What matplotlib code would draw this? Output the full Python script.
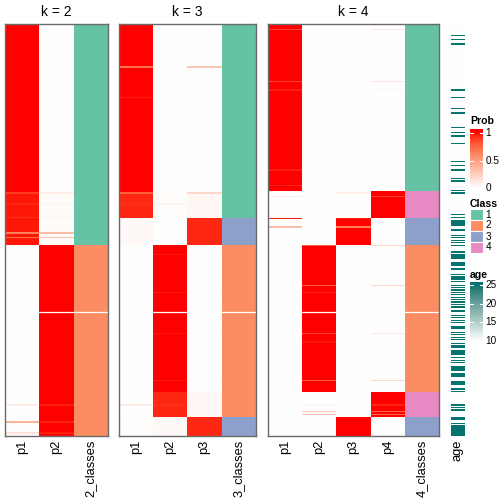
import numpy as np
import matplotlib
matplotlib.use("Agg")
import matplotlib.pyplot as plt
from matplotlib.colors import ListedColormap, to_rgb
from matplotlib.patches import Rectangle

plt.rcParams['font.family'] = ['Liberation Sans', 'DejaVu Sans']

# ---------------- data ----------------
N_SAMPLES = 340

# membership probabilities: (number of rows, [p1..pk]) runs, plus single-row exceptions
k2_segments = [(139, [1.0, 0.0]), (43, [0.98, 0.02]), (158, [0.0, 1.0])]
k2_exceptions = {139: [0.90, 0.10], 148: [0.95, 0.05], 159: [0.93, 0.07],
                 172: [0.65, 0.35], 176: [0.70, 0.30],
                 314: [0.10, 0.97], 328: [0.40, 0.96], 337: [0.15, 0.97]}
k2_class_runs = [(1, 182), (2, 158)]

k3_segments = [(139, [1.0, 0.0, 0.0]), (21, [0.95, 0.01, 0.04]),
               (22, [0.03, 0.0, 0.95]), (122, [0.0, 1.0, 0.0]),
               (20, [0.0, 0.95, 0.04]), (16, [0.01, 0.03, 0.95])]
k3_exceptions = {35: [0.70, 0.0, 0.30], 60: [0.97, 0.0, 0.02],
                 139: [0.78, 0.02, 0.22], 148: [0.94, 0.05, 0.04],
                 190: [0.0, 0.98, 0.02], 221: [0.0, 0.98, 0.01],
                 255: [0.0, 0.98, 0.02], 294: [0.0, 0.98, 0.02],
                 314: [0.10, 0.93, 0.04]}
k3_class_runs = [(1, 160), (3, 22), (2, 142), (3, 16)]

k4_segments = [(138, [1.0, 0.0, 0.0, 0.0]), (22, [0.0, 0.0, 0.0, 1.0]),
               (22, [0.0, 0.0, 1.0, 0.0]), (122, [0.0, 1.0, 0.0, 0.0]),
               (20, [0.0, 0.0, 0.0, 1.0]), (16, [0.0, 0.0, 1.0, 0.0])]
k4_exceptions = {0: [0.90, 0.0, 0.0, 0.20], 4: [0.88, 0.0, 0.0, 0.12],
                 47: [0.88, 0.0, 0.0, 0.12], 54: [0.97, 0.0, 0.0, 0.03],
                 120: [0.97, 0.0, 0.0, 0.02], 133: [0.97, 0.0, 0.0, 0.03],
                 139: [0.0, 0.0, 0.08, 1.0], 142: [0.10, 0.0, 0.0, 0.88],
                 160: [0.97, 0.0, 0.97, 0.0], 167: [0.35, 0.0, 0.65, 0.0],
                 182: [0.0, 0.80, 0.0, 0.20], 190: [0.0, 1.0, 0.02, 0.0],
                 215: [0.0, 0.80, 0.0, 0.20], 221: [0.0, 0.97, 0.0, 0.03],
                 255: [0.0, 0.88, 0.0, 0.12], 262: [0.0, 0.98, 0.0, 0.02],
                 294: [0.0, 0.80, 0.0, 0.20],
                 314: [0.0, 0.05, 0.0, 0.96], 319: [0.0, 0.30, 0.0, 0.75],
                 322: [0.0, 0.30, 0.0, 0.75]}
k4_class_runs = [(1, 138), (4, 22), (3, 22), (2, 122), (4, 20), (3, 16)]

# age annotation: low/high values, rows (start, count) with high age
age_low, age_high = 10, 25
age_high_runs = [(9, 1), (12, 1), (16, 1), (54, 1), (60, 1), (69, 1), (73, 1), (85, 1),
                 (89, 1), (92, 1), (98, 1), (113, 1), (116, 1), (120, 1), (127, 1),
                 (129, 1), (137, 1), (139, 1), (157, 1), (159, 1), (162, 5), (169, 2),
                 (174, 1), (176, 1), (178, 1), (180, 1), (182, 1), (187, 2), (190, 4),
                 (196, 4), (201, 2), (206, 1), (208, 3), (212, 1), (215, 1), (217, 1),
                 (219, 1), (221, 1), (223, 1), (225, 1), (227, 1), (229, 1), (231, 1),
                 (233, 1), (236, 2), (240, 1), (242, 1), (244, 1), (246, 1), (249, 3),
                 (254, 1), (256, 1), (258, 1), (260, 1), (263, 1), (265, 2), (269, 4),
                 (275, 1), (277, 1), (279, 1), (282, 4), (288, 3), (295, 3), (300, 2),
                 (303, 1), (314, 1), (316, 1), (318, 1), (324, 3), (329, 1), (331, 9)]

gap_row = 238  # thin white seam seen in the body
class_labels = ['1', '2', '3', '4']
class_colors = ['#66C2A5', '#FC8D62', '#8DA0CB', '#E78AC3']
prob_ticks = [0, 0.5, 1]
age_ticks = [10, 15, 20, 25]
teal = '#07736E'

# ---------------- helpers ----------------
def srgb_to_lab(c):
    c = np.asarray(c, float)
    lin = np.where(c <= 0.04045, c / 12.92, ((c + 0.055) / 1.055) ** 2.4)
    M = np.array([[0.4124, 0.3576, 0.1805], [0.2126, 0.7152, 0.0722], [0.0193, 0.1192, 0.9505]])
    xyz = M @ lin / np.array([0.95047, 1.0, 1.08883])
    f = np.where(xyz > 0.008856, np.cbrt(xyz), 7.787 * xyz + 16 / 116)
    return np.array([116 * f[1] - 16, 500 * (f[0] - f[1]), 200 * (f[1] - f[2])])

def lab_to_srgb(lab):
    L, a, b = lab
    fy = (L + 16) / 116
    f = np.array([fy + a / 500, fy, fy - b / 200])
    xyz = np.where(f ** 3 > 0.008856, f ** 3, (f - 16 / 116) / 7.787) * np.array([0.95047, 1.0, 1.08883])
    Minv = np.array([[3.2406, -1.5372, -0.4986], [-0.9689, 1.8758, 0.0415], [0.0557, -0.2040, 1.0570]])
    lin = np.clip(Minv @ xyz, 0, 1)
    c = np.where(lin <= 0.0031308, 12.92 * lin, 1.055 * lin ** (1 / 2.4) - 0.055)
    return np.clip(c, 0, 1)

def lab_cmap(c0, c1, n=256):
    l0, l1 = srgb_to_lab(to_rgb(c0)), srgb_to_lab(to_rgb(c1))
    return ListedColormap([lab_to_srgb(l0 + (l1 - l0) * t) for t in np.linspace(0, 1, n)])

prob_cmap = lab_cmap('white', 'red')
age_cmap = lab_cmap('white', teal)

def build_probs(segments, exceptions):
    rows = []
    for n, vals in segments:
        rows.extend([list(vals)] * n)
    arr = np.array(rows, float)
    for r, vals in exceptions.items():
        arr[r] = vals
    return arr

def build_classes(runs):
    return np.repeat([c for c, n in runs], [n for c, n in runs])

ages = np.full(N_SAMPLES, age_low, float)
for s, n in age_high_runs:
    ages[s:s + n] = age_high

W = H = 504.0
fig = plt.figure(figsize=(5.04, 5.04), dpi=100)

def fbox(x0, y0, x1, y1):
    return [x0 / W, 1 - y1 / H, (x1 - x0) / W, (y1 - y0) / H]

TOP, BOT = 24, 436
panels = [(2, k2_segments, k2_exceptions, k2_class_runs, 5, 108),
          (3, k3_segments, k3_exceptions, k3_class_runs, 119, 256),
          (4, k4_segments, k4_exceptions, k4_class_runs, 268, 439)]

for k, segs, exc, cruns, x0, x1 in panels:
    probs = build_probs(segs, exc)
    classes = build_classes(cruns)
    img = np.zeros((N_SAMPLES, k + 1, 3))
    img[:, :k, :] = prob_cmap(np.clip(probs, 0, 1))[..., :3]
    img[:, k, :] = np.array([to_rgb(class_colors[c - 1]) for c in classes])
    ax = fig.add_axes(fbox(x0, TOP, x1, BOT))
    ax.imshow(img, aspect='auto', interpolation='nearest')
    ax.axhline(gap_row - 0.5, color='white', lw=0.9)
    ax.set_xticks(range(k + 1))
    ax.set_xticklabels([f'p{i + 1}' for i in range(k)] + [f'{k}_classes'],
                       rotation=90, fontsize=9.3, va='top', ha='center')
    ax.set_yticks([])
    ax.tick_params(axis='x', length=0, pad=2.5)
    for sp in ax.spines.values():
        sp.set_color('#6a6a6a')
        sp.set_linewidth(1.0)
    ax.set_title(f'k = {k}', fontsize=10, pad=6)

# age annotation column
axa = fig.add_axes(fbox(451, TOP, 465, BOT))
axa.imshow(ages[:, None], cmap=age_cmap, vmin=age_low, vmax=age_high,
           aspect='auto', interpolation='nearest')
axa.set_xticks([0])
axa.set_xticklabels(['age'], rotation=90, fontsize=9.3, va='top', ha='center')
axa.set_yticks([])
axa.tick_params(axis='x', length=0, pad=2.5)
for sp in axa.spines.values():
    sp.set_visible(False)

# ---------------- legends ----------------
LX0, LX1 = 470, 483
fs_leg = 7.2

def colorbar_legend(title, cmap, vmin, vmax, ticks, ytitle, y_top, y_bot, y_vmax, y_vmin, fmt):
    fig.text(LX0 / W, 1 - ytitle / H, title, fontsize=7.6, fontweight='bold',
             ha='left', va='center')
    axc = fig.add_axes(fbox(LX0, y_top, LX1, y_bot))
    per_px = (vmax - vmin) / (y_vmin - y_vmax)
    top_val = vmax + (y_vmax - y_top) * per_px
    bot_val = vmin - (y_bot - y_vmin) * per_px
    grad = np.linspace(top_val, bot_val, 200)[:, None]
    axc.imshow(np.clip(grad, vmin, vmax), cmap=cmap, vmin=vmin, vmax=vmax,
               aspect='auto', extent=(0, 1, bot_val, top_val), interpolation='bilinear')
    axc.set_xlim(0, 1)
    axc.set_ylim(bot_val, top_val)
    axc.axis('off')
    for t in ticks:
        axc.plot([0, 0.22], [t, t], color='white', lw=0.8)
        axc.plot([0.78, 1], [t, t], color='white', lw=0.8)
        yp = y_vmax + (vmax - t) / per_px
        fig.text(485.5 / W, 1 - yp / H, fmt(t), fontsize=fs_leg, ha='left', va='center')

colorbar_legend('Prob', prob_cmap, 0, 1, prob_ticks, 121, 129, 191, 133, 188,
                lambda t: f'{t:g}')

fig.text(LX0 / W, 1 - 204 / H, 'Class', fontsize=7.6, fontweight='bold', ha='left', va='center')
axl = fig.add_axes(fbox(LX0, 209, LX1, 253))
axl.set_xlim(0, 1)
axl.set_ylim(len(class_labels), 0)
axl.axis('off')
for i, (lab, col) in enumerate(zip(class_labels, class_colors)):
    axl.add_patch(Rectangle((0, i), 1, 1, facecolor=col, edgecolor='white', lw=0.8))
    fig.text(485.5 / W, 1 - (209 + 11 * i + 5.5) / H, lab, fontsize=fs_leg, ha='left', va='center')

colorbar_legend('age', age_cmap, age_low, age_high, age_ticks, 275, 282, 344, 285, 341,
                lambda t: f'{t:g}')

fig.savefig('out.png', dpi=100)
